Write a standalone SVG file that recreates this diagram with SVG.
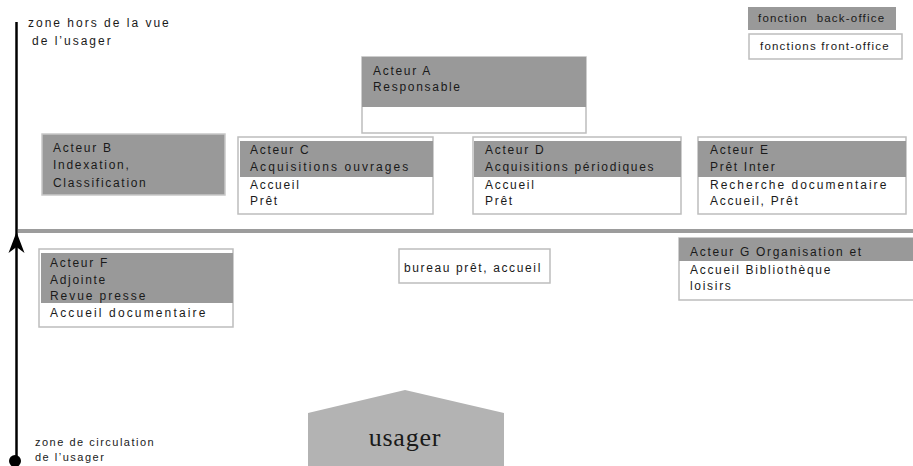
<svg xmlns="http://www.w3.org/2000/svg" width="913" height="466" viewBox="0 0 913 466">
<style>
text{font-family:"Liberation Sans",Arial,sans-serif;font-size:12px;letter-spacing:1.7px;fill:#1a1a1a}
.bk{fill:#999999}
.fr{fill:#ffffff;stroke:#bdbdbd;stroke-width:1.5}
.lg{font-size:11.5px;letter-spacing:1.2px}
.zn{font-size:12px;letter-spacing:2px}
.zb{font-size:11px;letter-spacing:1.5px}
</style>
<g id="connectors">
<line x1="18" y1="231" x2="913" y2="231" stroke="#9c9c9c" stroke-width="4"/>
<line x1="16.5" y1="22" x2="16.5" y2="461" stroke="#000" stroke-width="2.5"/>
<path d="M16.5,232 L24.5,253 L16.5,247 L8.5,253 Z" fill="#000"/>
<circle cx="15" cy="461" r="6" fill="#000"/>
</g>
<g id="zone-top">
<text class="zn" x="28" y="27">zone hors de la vue</text>
<text class="zn" x="32" y="45">de l’usager</text>
</g>
<g id="zone-bottom">
<text class="zb" x="35" y="446">zone de circulation</text>
<text class="zb" x="35" y="461">de l’usager</text>
</g>
<g id="legend">
<rect class="bk" x="748" y="7" width="148" height="23"/>
<text class="lg" x="758" y="22" xml:space="preserve">fonction  back-office</text>
<rect class="fr" x="749" y="34" width="153" height="25"/>
<text class="lg" x="760" y="50">fonctions front-office</text>
</g>
<g id="acteur-a">
<rect class="fr" x="362" y="57" width="224" height="76"/>
<rect class="bk" x="362" y="57" width="224" height="50"/>
<text x="373" y="75">Acteur A</text>
<text x="373" y="91">Responsable</text>
</g>
<g id="acteur-b">
<rect class="bk" x="42" y="134" width="183" height="61" stroke="#c8c8c8" stroke-width="1.5"/>
<text x="53" y="152">Acteur B</text>
<text x="53" y="169">Indexation,</text>
<text x="53" y="187">Classification</text>
</g>
<g id="acteur-c">
<rect class="fr" x="238" y="137" width="195" height="77"/>
<rect class="bk" x="240" y="141" width="193" height="36"/>
<text x="250" y="154">Acteur C</text>
<text x="250" y="171" textLength="160" lengthAdjust="spacing">Acquisitions ouvrages</text>
<text x="250" y="189">Accueil</text>
<text x="250" y="205">Prêt</text>
</g>
<g id="acteur-d">
<rect class="fr" x="473" y="137" width="208" height="77"/>
<rect class="bk" x="474" y="141" width="207" height="36"/>
<text x="485" y="154">Acteur D</text>
<text x="485" y="171">Acquisitions périodiques</text>
<text x="485" y="189">Accueil</text>
<text x="485" y="205">Prêt</text>
</g>
<g id="acteur-e">
<rect class="fr" x="698" y="137" width="208" height="77"/>
<rect class="bk" x="698" y="141" width="208" height="36"/>
<text x="710" y="154">Acteur E</text>
<text x="710" y="171">Prêt Inter</text>
<text x="710" y="189" textLength="178" lengthAdjust="spacing">Recherche documentaire</text>
<text x="710" y="205">Accueil, Prêt</text>
</g>
<g id="acteur-f">
<rect class="fr" x="39" y="249" width="194" height="78"/>
<rect class="bk" x="41" y="253" width="192" height="50"/>
<text x="50" y="267">Acteur F</text>
<text x="50" y="284">Adjointe</text>
<text x="50" y="300" textLength="97" lengthAdjust="spacing">Revue presse</text>
<text x="50" y="317" textLength="157" lengthAdjust="spacing">Accueil documentaire</text>
</g>
<g id="bureau">
<rect class="fr" x="399" y="249" width="151" height="34"/>
<text x="404" y="272" textLength="138" lengthAdjust="spacing">bureau prêt, accueil</text>
</g>
<g id="acteur-g">
<rect class="fr" x="679" y="238" width="236" height="62"/>
<rect class="bk" x="679" y="238" width="236" height="23"/>
<text x="690" y="256">Acteur G Organisation et</text>
<text x="690" y="274">Accueil Bibliothèque</text>
<text x="690" y="290">loisirs</text>
</g>
<g id="usager">
<polygon points="308,413 405,390 504,413 504,466 308,466" fill="#b3b3b3"/>
<text x="405" y="446" text-anchor="middle" style="font-family:'Liberation Serif','Times New Roman',serif;font-size:26px;letter-spacing:0.8px;fill:#1a1a1a">usager</text>
</g>
</svg>
